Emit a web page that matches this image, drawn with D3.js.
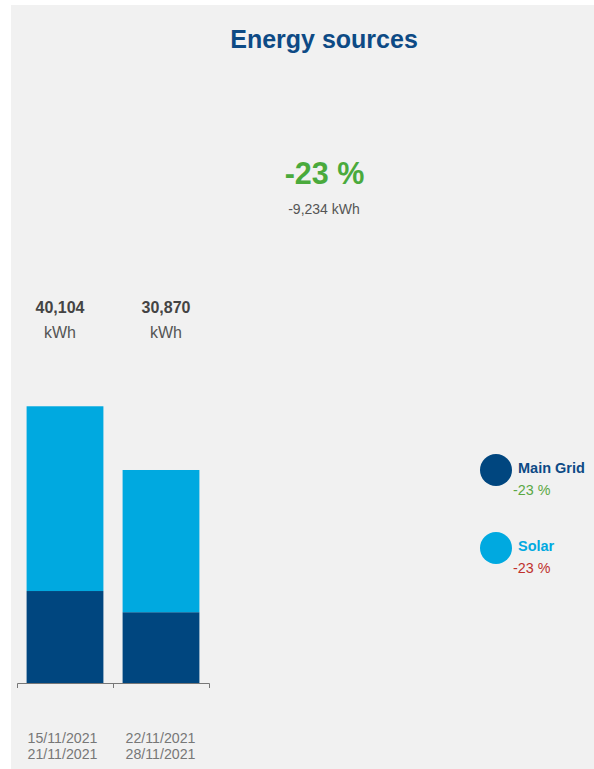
<!DOCTYPE html>
<html>
<head>
<meta charset="utf-8">
<script src="https://cdn.jsdelivr.net/npm/d3@7"></script>
<style>
  html, body { margin: 0; padding: 0; background: #ffffff; }
  svg { display: block; font-family: "Liberation Sans", Arial, sans-serif; }
</style>
</head>
<body>
<svg id="chart" width="594" height="769"></svg>
<script>
// Weekly energy consumption per source (kWh)
const periodStart = ["15/11/2021", "22/11/2021"];
const periodEnd   = ["21/11/2021", "28/11/2021"];
const sources     = ["Main Grid", "Solar"];
const mainGrid    = [13330, 10260];
const solar       = [26774, 20610];
const yDomainMax  = 50000;

const colors = { "Main Grid": "#00467f", "Solar": "#00a9e0" };
const sourceValues = { "Main Grid": mainGrid, "Solar": solar };

const periods = periodStart.map((s, i) => s + "–" + periodEnd[i]);
const totals = periods.map((_, i) => mainGrid[i] + solar[i]);

// Thousands separator with a plain hyphen for negatives
const fmt = v => d3.format(",")(v).replace("\u2212", "-");
const pct = (a, b) => Math.round((b - a) / a * 100);

const svg = d3.select("#chart");

// Panel background
svg.append("rect")
  .attr("x", 11).attr("y", 5)
  .attr("width", 594 - 11).attr("height", 769 - 5)
  .attr("fill", "#f1f1f1");

// Title
svg.append("text")
  .attr("x", 324).attr("y", 48)
  .attr("text-anchor", "middle")
  .attr("font-size", 25).attr("font-weight", "bold")
  .attr("fill", "#0d4a85")
  .text("Energy sources");

// Overall change between the two periods
const totalDiff = totals[1] - totals[0];
svg.append("text")
  .attr("x", 324.5).attr("y", 184)
  .attr("text-anchor", "middle")
  .attr("font-size", 30.5).attr("font-weight", "bold")
  .attr("fill", "#4aaa3c")
  .text(pct(totals[0], totals[1]) + " %");
svg.append("text")
  .attr("x", 324).attr("y", 214)
  .attr("text-anchor", "middle")
  .attr("font-size", 14)
  .attr("fill", "#555555")
  .text(fmt(totalDiff) + " kWh");

// Scales
const x = d3.scaleBand().domain(periods).range([17, 209])
  .paddingInner(0.2).paddingOuter(0.1);
const y = d3.scaleLinear().domain([0, yDomainMax]).range([683, 338]);

// Stacked bars
const stackData = periods.map((p, i) => ({ period: p, "Main Grid": mainGrid[i], "Solar": solar[i] }));
const series = d3.stack().keys(sources)(stackData);

svg.append("g").selectAll("g")
  .data(series)
  .join("g")
  .attr("fill", d => colors[d.key])
  .selectAll("rect")
  .data(d => d)
  .join("rect")
  .attr("x", d => x(d.data.period))
  .attr("width", x.bandwidth())
  .attr("y", d => y(d[1]))
  .attr("height", d => y(d[0]) - y(d[1]));

// Axis with ticks on the band boundaries
const xEdges = d3.scaleLinear().domain([0, periods.length]).range(x.range());
svg.append("g")
  .attr("transform", "translate(0,683)")
  .call(d3.axisBottom(xEdges).tickValues([1]).tickFormat("").tickSize(5).tickSizeOuter(5))
  .call(g => g.selectAll("path, line").attr("stroke", "#777777"));

// Totals above the bars
const labelX = d3.scalePoint().domain(periods).range([60, 166]);
const totalLabels = svg.append("g").selectAll("g")
  .data(periods)
  .join("g");
totalLabels.append("text")
  .attr("x", d => labelX(d)).attr("y", 313)
  .attr("text-anchor", "middle")
  .attr("font-size", 16).attr("font-weight", "bold")
  .attr("fill", "#444444")
  .text((d, i) => fmt(totals[i]));
totalLabels.append("text")
  .attr("x", d => labelX(d)).attr("y", 338)
  .attr("text-anchor", "middle")
  .attr("font-size", 16)
  .attr("fill", "#555555")
  .text("kWh");

// Period labels
const dateX = d3.scalePoint().domain(periods).range([62.5, 160.5]);
const dateLabels = svg.append("g").selectAll("g")
  .data(periods)
  .join("g");
dateLabels.append("text")
  .attr("x", d => dateX(d)).attr("y", 743)
  .attr("text-anchor", "middle")
  .attr("font-size", 14.2)
  .attr("fill", "#777777")
  .text((d, i) => periodStart[i]);
dateLabels.append("text")
  .attr("x", d => dateX(d)).attr("y", 759)
  .attr("text-anchor", "middle")
  .attr("font-size", 14.2)
  .attr("fill", "#777777")
  .text((d, i) => periodEnd[i]);

// Legend with per-source change
const legendColorText = { "Main Grid": "#0d4a85", "Solar": "#00a9e0" };
const changeColor = { "Main Grid": "#5aa844", "Solar": "#c0302c" };
const legendY = d3.scalePoint().domain(sources).range([470, 548]);
const legend = svg.append("g").selectAll("g")
  .data(sources)
  .join("g")
  .attr("transform", d => `translate(0,${legendY(d)})`);
legend.append("circle")
  .attr("cx", 496).attr("cy", 0).attr("r", 16)
  .attr("fill", d => colors[d]);
legend.append("text")
  .attr("x", 518).attr("y", 3)
  .attr("font-size", 14.5).attr("font-weight", "bold")
  .attr("fill", d => legendColorText[d])
  .text(d => d);
legend.append("text")
  .attr("x", 513).attr("y", 25)
  .attr("font-size", 14.3)
  .attr("fill", d => changeColor[d])
  .text(d => {
    const v = sourceValues[d];
    return pct(v[0], v[1]) + " %";
  });
</script>
</body>
</html>
